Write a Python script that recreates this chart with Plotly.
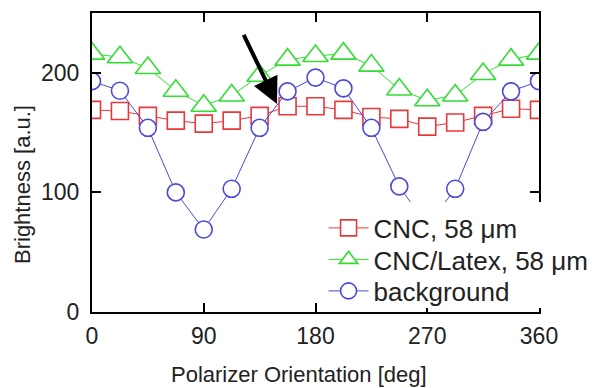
import plotly.graph_objects as go

angles = [0, 22.5, 45, 67.5, 90, 112.5, 135, 157.5, 180, 202.5, 225, 247.5, 270, 292.5, 315, 337.5, 360]
cnc = [169, 168, 164, 160, 157.5, 160, 164, 172, 172, 169, 163, 161.5, 155, 158.5, 164, 170, 169]
cnc_latex = [216, 213, 204, 185, 172.5, 181, 197.5, 211, 214, 216, 206, 186, 177, 181, 199, 211, 216]
background = [193, 185, 154, 100, 69, 103, 154, 184.5, 196, 187, 154, 105, 72, 103, 159, 184.5, 193]

names = ["CNC, 58 \u03bcm", "CNC/Latex, 58 \u03bcm", "background"]
colors = ["#e8383a", "#33dd33", "#4a4ad8"]
symbols = ["square", "triangle-up", "circle"]
sizes = [17, 22, 17]
series = [cnc, cnc_latex, background]
legend_ids = ["legend", "legend2", "legend3"]
legend_rows_px = [228, 259.5, 291]  # vertical centre of each legend row (pixels)

x_title = "Polarizer Orientation [deg]"
y_title = "Brightness [a.u.]"

fig = go.Figure()
for name, col, sym, sz, ys, lg in zip(names, colors, symbols, sizes, series, legend_ids):
    fig.add_trace(go.Scatter(
        x=angles, y=ys, name=name, mode="lines+markers", legend=lg,
        line=dict(color=col, width=1),
        marker=dict(symbol=sym, size=sz, color="white", line=dict(color=col, width=1.6)),
    ))

fig.add_annotation(x=149, y=174, ax=121.6, ay=233, xref="x", yref="y", axref="x", ayref="y",
                   text="", showarrow=True, arrowhead=2, arrowsize=1.3, arrowwidth=4,
                   arrowcolor="black", standoff=0)

# axis titles placed as annotations (offset like the reference)
fig.add_annotation(text=x_title, xref="paper", yref="paper", x=(299 - 92) / 447, y=-(374 - 312) / 299,
                   xanchor="center", yanchor="middle", showarrow=False, font=dict(size=22))
fig.add_annotation(text=y_title, xref="paper", yref="paper", x=-(92 - 22) / 447, y=(312 - 185) / 299,
                   xanchor="center", yanchor="middle", textangle=-90, showarrow=False,
                   font=dict(size=22))

# white box behind the legend (it hides the data and frame behind it)
fig.add_shape(type="rect", xref="paper", yref="paper", layer="above",
              x0=(318 - 92) / 447, x1=(600 - 92) / 447, y0=(312 - 308) / 299, y1=(312 - 202) / 299,
              fillcolor="white", line=dict(width=0))

font_family = "Liberation Sans, Arial, sans-serif"
legend_common = dict(x=0.518, xanchor="left", yanchor="middle", bgcolor="rgba(0,0,0,0)",
                     borderwidth=0, font=dict(size=26), itemwidth=40)
fig.update_layout(
    width=592, height=388,
    margin=dict(l=92, r=53, t=13, b=76, autoexpand=False),
    paper_bgcolor="white", plot_bgcolor="white",
    font=dict(family=font_family, size=23, color="#222"),
    showlegend=True,
    legend=dict(y=(312 - legend_rows_px[0]) / 299, **legend_common),
    legend2=dict(y=(312 - legend_rows_px[1]) / 299, **legend_common),
    legend3=dict(y=(312 - legend_rows_px[2]) / 299, **legend_common),
    xaxis=dict(range=[0, 360], tickvals=[0, 90, 180, 270, 360], ticks="inside", ticklen=9,
               tickwidth=1.8, tickcolor="black", showline=True, linecolor="black", linewidth=2,
               mirror="ticks", showgrid=False, zeroline=False, ticklabelstandoff=2,
               automargin=False),
    yaxis=dict(range=[0, 250], tickvals=[0, 100, 200], ticks="inside", ticklen=9,
               tickwidth=1.8, tickcolor="black", showline=True, linecolor="black", linewidth=2,
               mirror="ticks", showgrid=False, zeroline=False, ticklabelstandoff=6,
               automargin=False),
)

fig.write_html("out.html", config={"displayModeBar": False},
               post_script="document.body.style.margin='0';")
